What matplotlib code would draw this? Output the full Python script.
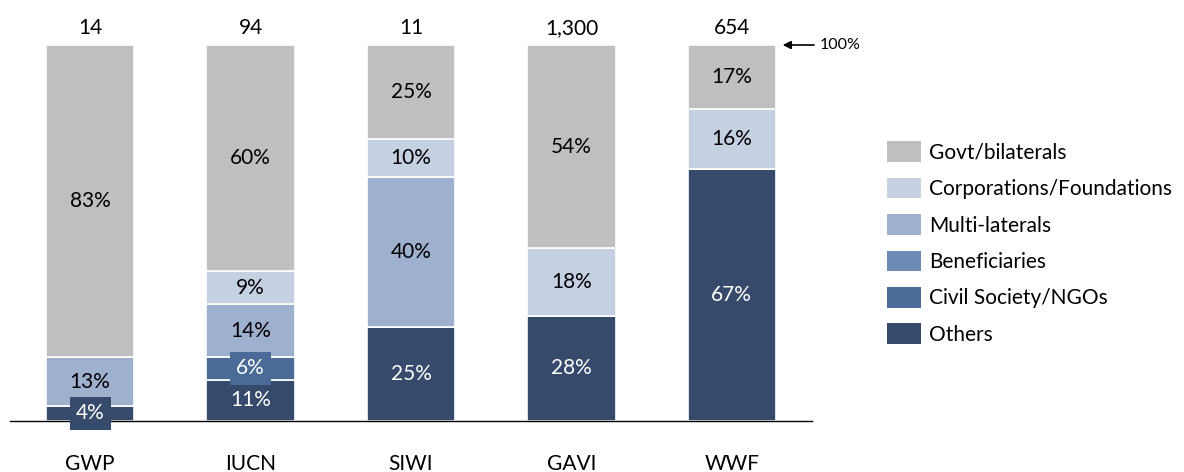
import numpy as np
import matplotlib
matplotlib.use("Agg")
import matplotlib.pyplot as plt
from matplotlib.patches import Patch

plt.rcParams["font.family"] = ["Lato", "DejaVu Sans"]

# Data
categories = ["GWP", "IUCN", "SIWI", "GAVI", "WWF"]
totals = ["14", "94", "11", "1,300", "654"]
series_names = ["Others", "Civil Society/NGOs", "Beneficiaries",
                "Multi-laterals", "Corporations/Foundations", "Govt/bilaterals"]
others = [4, 11, 25, 28, 67]
civil = [0, 6, 0, 0, 0]
beneficiaries = [0, 0, 0, 0, 0]
multilaterals = [13, 14, 40, 0, 0]
corporations = [0, 9, 10, 18, 16]
govt = [83, 60, 25, 54, 17]

series = [others, civil, beneficiaries, multilaterals, corporations, govt]
colors = ["#364B6B", "#4A6A98", "#6E8BB5", "#9DB0CE", "#C5D0E2", "#BFBFBF"]
text_colors = ["white", "white", "white", "black", "black", "black"]

W, H, DPI = 1184, 472, 100
fig = plt.figure(figsize=(W / DPI, H / DPI), dpi=DPI)
ax = fig.add_axes([10 / W, (H - 421) / H, (812 - 10) / W, (421 - 45) / H])

x = np.arange(len(categories))
bottom = np.zeros(len(categories))
for vals, col, tcol in zip(series, colors, text_colors):
    vals = np.array(vals, dtype=float) / 100
    ax.bar(x, vals, bottom=bottom, width=0.55, color=col,
           edgecolor="white", linewidth=1.2)
    for xi, v, b in zip(x, vals, bottom):
        if v <= 0:
            continue
        label = f"{v * 100:.0f}%"
        kw = {}
        if v < 0.07:
            # small segments get a boxed label
            kw["bbox"] = dict(boxstyle="square,pad=0.3", fc=col, ec="none")
        ax.text(xi, b + v / 2, label, ha="center", va="center",
                fontsize=15, color=tcol, **kw)
    bottom += vals

# totals on top
for xi, t in zip(x, totals):
    ax.annotate(t, (xi, 1.0), xytext=(0, 12), textcoords="offset points",
                ha="center", va="center", fontsize=15, color="black")

# category labels
for xi, c in zip(x, categories):
    ax.annotate(c, (xi, 0), xytext=(0, -24), textcoords="offset points",
                ha="center", va="top", fontsize=15, color="black",
                annotation_clip=False)

# 100% marker
ax.annotate("", xy=(4.3, 1.0), xytext=(4.53, 1.0),
            arrowprops=dict(arrowstyle="-|>", color="black", lw=1.2,
                            mutation_scale=12),
            annotation_clip=False)
ax.text(4.55, 1.0, "100%", ha="left", va="center", fontsize=11.5,
        color="black", clip_on=False)

ax.set_xlim(-0.5, 4.5)
ax.set_ylim(0, 1)
for s in ["top", "right", "left"]:
    ax.spines[s].set_visible(False)
ax.spines["bottom"].set_linewidth(1.0)
ax.set_xticks([])
ax.set_yticks([])

handles = [Patch(facecolor=c, edgecolor="none", label=n)
           for c, n in zip(colors, series_names)][::-1]
fig.legend(handles=handles, loc="center left",
           bbox_to_anchor=(868 / W, 1 - 243 / H), frameon=False,
           fontsize=15, handlelength=1.65, handleheight=1.15,
           labelspacing=0.72, handletextpad=0.4, labelcolor="black")

fig.savefig("out.png", dpi=DPI)
